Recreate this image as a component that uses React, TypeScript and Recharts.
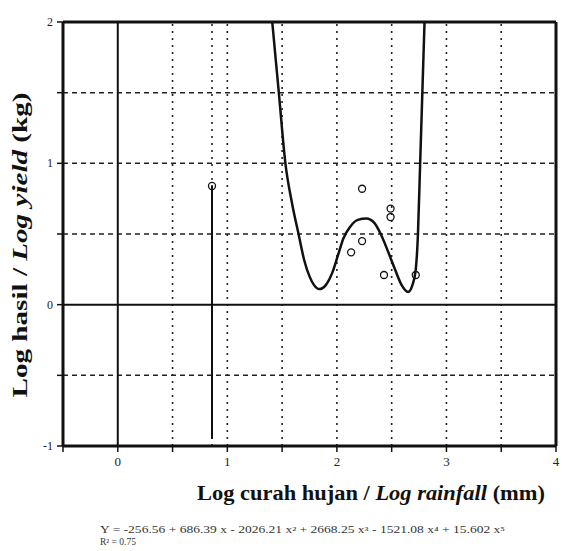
import React from "react";
import {
  ComposedChart,
  Line,
  Scatter,
  XAxis,
  YAxis,
  ReferenceLine,
  Label,
} from "recharts";

// ---- data ----
const xTicks = [-0.5, 0, 0.5, 1, 1.5, 2, 2.5, 3, 3.5, 4];
const xTickLabels = ["", "0", "", "1", "", "2", "", "3", "", "4"];
const yTicks = [-1, -0.5, 0, 0.5, 1, 1.5, 2];
const yTickLabels = ["-1", "", "0", "", "1", "", "2"];
const gridX = [0.5, 1, 1.5, 2, 2.5, 3, 3.5];
const gridY = [-0.5, 0.5, 1, 1.5];

// fitted curve
const curveX = [1.41, 1.47, 1.53, 1.59, 1.65, 1.70, 1.75, 1.79, 1.84, 1.90, 1.96, 2.01, 2.06, 2.12, 2.19, 2.27, 2.34, 2.40, 2.47, 2.53, 2.59, 2.65, 2.69, 2.72, 2.74, 2.76, 2.78, 2.80];
const curveY = [2.0, 1.5, 1.0, 0.72, 0.5, 0.32, 0.2, 0.14, 0.11, 0.14, 0.23, 0.35, 0.47, 0.55, 0.6, 0.61, 0.58, 0.5, 0.37, 0.25, 0.14, 0.09, 0.14, 0.25, 0.5, 1.0, 1.5, 2.0];

// observed points
const obsX = [0.86, 2.23, 2.49, 2.49, 2.23, 2.13, 2.43, 2.72];
const obsY = [0.84, 0.82, 0.68, 0.62, 0.45, 0.37, 0.21, 0.21];

// stem line at the first observation
const stemX = 0.86;
const stemTop = 0.84;
const stemBottom = -0.95;

// all vertical dotted lines (grid + the stem guide)
const dottedX = [...gridX, stemX];

const formulaText =
  "Y = -256.56 + 686.39 x - 2026.21 x² + 2668.25 x³ - 1521.08 x⁴ + 15.602 x⁵";
const r2Text = "R² = 0.75";

const curveData = curveX.map((x, i) => ({ x, y: curveY[i] }));
const obsData = obsX.map((x, i) => ({ x, y: obsY[i] }));

const FONT = "'Liberation Serif', 'DejaVu Serif', serif";

const XTick = (props: any) => {
  const { x, y, payload } = props;
  const label = xTickLabels[xTicks.indexOf(payload.value)] ?? "";
  return (
    <text x={x} y={y + 12} textAnchor="middle" fontFamily={FONT} fontSize={13} fill="#222">
      {label}
    </text>
  );
};

const YTick = (props: any) => {
  const { x, y, payload } = props;
  const label = yTickLabels[yTicks.indexOf(payload.value)] ?? "";
  return (
    <text x={x - 2} y={y + 4} textAnchor="end" fontFamily={FONT} fontSize={12} fill="#222">
      {label}
    </text>
  );
};

const OpenCircle = (props: any) => {
  const { cx, cy } = props;
  return <circle cx={cx} cy={cy} r={3.5} fill="none" stroke="#111" strokeWidth={1.3} />;
};

const YTitle = () => (
  <text
    transform="translate(27,245) rotate(-90)"
    textAnchor="middle"
    fontFamily={FONT}
    fontSize={20}
    fontWeight="bold"
    fill="#111"
    textLength={305}
    lengthAdjust="spacingAndGlyphs"
  >
    <tspan>Log hasil / </tspan>
    <tspan fontStyle="italic">Log yield</tspan>
    <tspan> (kg)</tspan>
  </text>
);

const XTitle = () => (
  <g>
    <text
      x={371}
      y={500}
      textAnchor="middle"
      fontFamily={FONT}
      fontSize={20}
      fontWeight="bold"
      fill="#111"
      textLength={348}
      lengthAdjust="spacingAndGlyphs"
    >
      <tspan>Log curah hujan / </tspan>
      <tspan fontStyle="italic">Log rainfall</tspan>
      <tspan> (mm)</tspan>
    </text>
    <text
      x={100}
      y={533}
      fontFamily={FONT}
      fontSize={9.5}
      fill="#333"
      textLength={405}
      lengthAdjust="spacingAndGlyphs"
    >
      {formulaText}
    </text>
    <text x={100} y={545} fontFamily={FONT} fontSize={9.5} fill="#333">
      {r2Text}
    </text>
  </g>
);

export default function App() {
  return (
    <div style={{ position: "absolute", left: 0, top: 0, width: 565, height: 551, background: "#fff" }}>
      <ComposedChart
        width={565}
        height={551}
        margin={{ top: 22, right: 9, left: 0, bottom: 0 }}
      >
        <XAxis
          type="number"
          dataKey="x"
          domain={[-0.5, 4]}
          ticks={xTicks}
          allowDataOverflow
          height={105}
          axisLine={{ stroke: "#111", strokeWidth: 3 }}
          tickLine={{ stroke: "#111", strokeWidth: 1.5 }}
          tickSize={6}
          tick={<XTick />}
          interval={0}
        >
          <Label content={<XTitle />} />
        </XAxis>
        <YAxis
          type="number"
          dataKey="y"
          domain={[-1, 2]}
          ticks={yTicks}
          allowDataOverflow
          width={63}
          axisLine={{ stroke: "#111", strokeWidth: 3 }}
          tickLine={{ stroke: "#111", strokeWidth: 1.5 }}
          tickSize={6}
          tick={<YTick />}
          interval={0}
        >
          <Label content={<YTitle />} />
        </YAxis>

        {dottedX.map((v) => (
          <ReferenceLine key={"gx" + v} x={v} stroke="#222" strokeWidth={1.6} strokeDasharray="2 5" />
        ))}
        {gridY.map((v) => (
          <ReferenceLine key={"gy" + v} y={v} stroke="#222" strokeWidth={1.5} strokeDasharray="5 4" />
        ))}
        <ReferenceLine key="zero-y" y={0} stroke="#111" strokeWidth={2} />
        <ReferenceLine key="zero-x" x={0} stroke="#111" strokeWidth={2} />
        <ReferenceLine key="top" y={2} stroke="#111" strokeWidth={3} />
        <ReferenceLine key="right" x={4} stroke="#111" strokeWidth={3} />
        <ReferenceLine
          key="stem-solid"
          segment={[{ x: stemX, y: stemTop }, { x: stemX, y: stemBottom }]}
          stroke="#111"
          strokeWidth={2}
        />

        <Line
          data={curveData}
          dataKey="y"
          type="monotone"
          stroke="#111"
          strokeWidth={2.5}
          dot={false}
          activeDot={false}
          isAnimationActive={false}
        />
        <Scatter data={obsData} dataKey="y" shape={<OpenCircle />} isAnimationActive={false} />
      </ComposedChart>
    </div>
  );
}
